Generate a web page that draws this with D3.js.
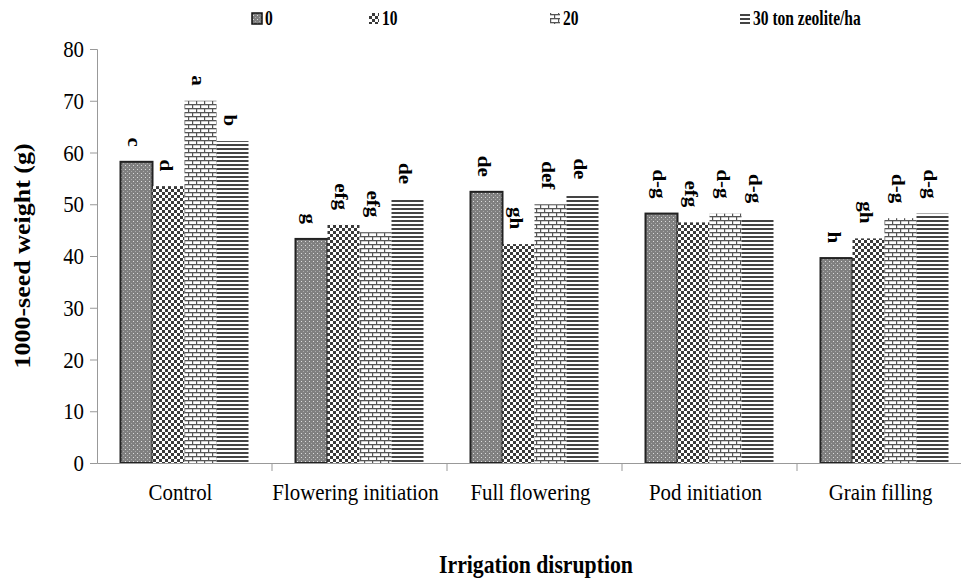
<!DOCTYPE html>
<html><head><meta charset="utf-8">
<script src="https://cdn.jsdelivr.net/npm/d3@7"></script>
<style>body{margin:0;background:#fff}svg{display:block}</style>
</head><body>
<svg id="c" width="961" height="581"></svg>
<script>
const categories = ["Control","Flowering initiation","Full flowering","Pod initiation","Grain filling"];
const seriesNames = ["0","10","20","30 ton zeolite/ha"];
const s0 = [58.2, 43.3, 52.4, 48.2, 39.6];
const s1 = [53.5, 46.0, 42.3, 46.5, 43.4];
const s2 = [70.0, 44.6, 50.0, 48.2, 47.3];
const s3 = [62.2, 51.0, 51.9, 47.3, 48.2];
const letters0 = ["c","g","de","d-g","h"];
const letters1 = ["d","efg","gh","efg","gh"];
const letters2 = ["a","efg","def","d-g","d-g"];
const letters3 = ["b","de","de","d-g","d-g"];
const yTicks = [0,10,20,30,40,50,60,70,80];

(function(){
const series = [s0,s1,s2,s3];
const letters = [letters0,letters1,letters2,letters3];
const SX = 0.87;

const svg = d3.select("#c");
const defs = svg.append("defs");
const p0 = defs.append("pattern").attr("id","p0").attr("patternUnits","userSpaceOnUse").attr("width",4).attr("height",4);
p0.append("rect").attr("width",4).attr("height",4).attr("fill","#808080");
p0.append("rect").attr("x",1).attr("y",1).attr("width",1).attr("height",1).attr("fill","#dcdcdc");
p0.append("rect").attr("x",3).attr("y",3).attr("width",1).attr("height",1).attr("fill","#aaa");
const p1 = defs.append("pattern").attr("id","p1").attr("patternUnits","userSpaceOnUse").attr("width",6).attr("height",6);
p1.append("rect").attr("width",6).attr("height",6).attr("fill","#fff");
p1.append("rect").attr("width",3).attr("height",3).attr("fill","#3a3a3a");
p1.append("rect").attr("x",3).attr("y",3).attr("width",3).attr("height",3).attr("fill","#3a3a3a");
const p2 = defs.append("pattern").attr("id","p2").attr("patternUnits","userSpaceOnUse").attr("width",8).attr("height",8);
p2.append("rect").attr("width",8).attr("height",8).attr("fill","#fff");
p2.append("rect").attr("x",0).attr("y",0).attr("width",8).attr("height",1.3).attr("fill","#555");
p2.append("rect").attr("x",0).attr("y",4).attr("width",8).attr("height",1.3).attr("fill","#555");
p2.append("rect").attr("x",0).attr("y",0).attr("width",1.2).attr("height",4).attr("fill","#555");
p2.append("rect").attr("x",4).attr("y",4).attr("width",1.2).attr("height",4).attr("fill","#555");
const p3 = defs.append("pattern").attr("id","p3").attr("patternUnits","userSpaceOnUse").attr("width",4).attr("height",4);
p3.append("rect").attr("width",4).attr("height",4).attr("fill","#fff");
p3.append("rect").attr("y",0).attr("width",4).attr("height",2).attr("fill","#444");

const fills = ["url(#p0)","url(#p1)","url(#p2)","url(#p3)"];

const mLeft = 97, mRight = 972, mTop = 49, mBottom = 463;
const x = d3.scaleBand().domain(categories).range([mLeft,mRight]).paddingInner(0).paddingOuter(0);
const xs = d3.scaleBand().domain(d3.range(4)).range([0,128]);
const y = d3.scaleLinear().domain([0,80]).range([mBottom,mTop]);
const font = "'Liberation Serif','Times New Roman',serif";

function squeeze(sel, dx){
  sel.each(function(){
    const t = d3.select(this);
    const xv = (+t.attr("x") || 0) + (dx||0);
    t.attr("x", xv/SX).attr("transform", `scale(${SX},1)`);
  });
}

const ya = svg.append("g").attr("transform",`translate(${mLeft},0)`)
  .call(d3.axisLeft(y).tickValues(yTicks).tickSize(7).tickPadding(6));
ya.select(".domain").attr("stroke","#999");
ya.selectAll(".tick line").attr("stroke","#999");
ya.selectAll("text").attr("font-family",font).attr("font-size",24).attr("fill","#000").call(squeeze);

const g = svg.append("g");
categories.forEach((c,i)=>{
  const gx = x(c) + (x.bandwidth()-128)/2;
  series.forEach((s,j)=>{
    g.append("rect").attr("x",gx+xs(j)).attr("y",y(s[i])).attr("width",xs.bandwidth()).attr("height",y(0)-y(s[i]))
      .attr("fill",fills[j]).attr("stroke",j===0?"#222":"none").attr("stroke-width",j===0?2:0);
    const tx = gx + xs(j) + xs.bandwidth()/2 - 2;
    const ty = y(s[i]) - 15;
    g.append("text").attr("transform",`translate(${tx},${ty}) rotate(90) scale(1,${SX})`)
      .attr("text-anchor","end").attr("dominant-baseline","central")
      .attr("font-family",font).attr("font-weight","bold").attr("font-size",21).text(letters[j][i]);
  });
});

const xa = svg.append("g").attr("transform",`translate(0,${mBottom})`)
  .call(d3.axisBottom(x).tickSize(0).tickPadding(20));
xa.select(".domain").attr("stroke","#999");
xa.selectAll("text").attr("font-family",font).attr("font-size",24).attr("fill","#000").call(squeeze, -4);
categories.slice(1).forEach(c=>{
  svg.append("line").attr("x1",x(c)).attr("x2",x(c)).attr("y1",mBottom).attr("y2",mBottom+8).attr("stroke","#999");
});

svg.append("text").attr("transform",`translate(30,${(mTop+mBottom)/2}) rotate(-90) scale(1,${SX})`)
  .attr("text-anchor","middle").attr("font-family",font).attr("font-weight","bold").attr("font-size",26).text("1000-seed weight (g)");
svg.append("text").attr("transform",`translate(536,573) scale(${SX},1)`).attr("text-anchor","middle")
  .attr("font-family",font).attr("font-weight","bold").attr("font-size",25).text("Irrigation disruption");

const legX = [252, 369, 550, 740];
seriesNames.forEach((n,j)=>{
  const lg = svg.append("g").attr("transform",`translate(${legX[j]},10)`);
  lg.append("rect").attr("x",0).attr("y",3).attr("width",10).attr("height",11).attr("fill",fills[j])
    .attr("stroke",j===0?"#111":"none").attr("stroke-width",j===0?1.5:0);
  lg.append("text").attr("transform",`translate(13,15) scale(${SX*0.85},1)`).attr("font-family",font)
    .attr("font-weight","bold").attr("font-size",21).text(n);
});
})();
</script>
</body></html>
